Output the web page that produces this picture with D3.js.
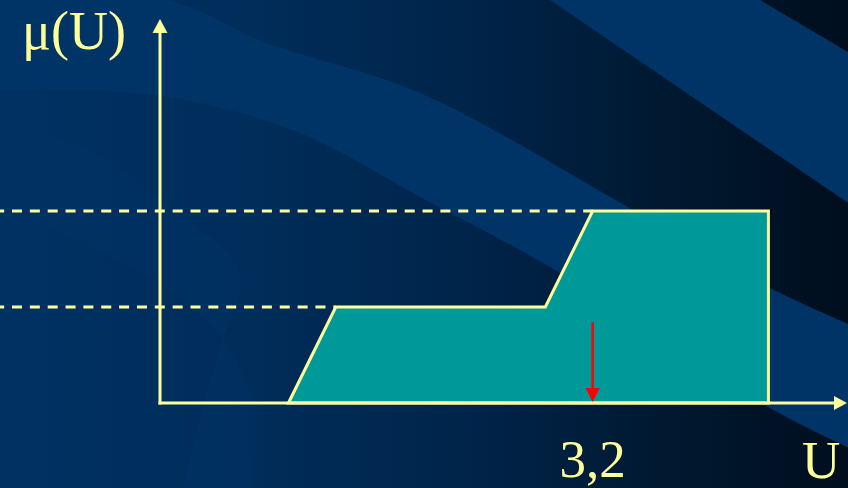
<!DOCTYPE html>
<html>
<head>
<meta charset="utf-8">
<script src="https://cdn.jsdelivr.net/npm/d3@7"></script>
<style>
  html, body { margin: 0; padding: 0; background: #001a33; overflow: hidden; }
  svg { display: block; }
</style>
</head>
<body>
<svg id="chart" width="848" height="488"></svg>
<script>
// Clipped output fuzzy set (vertices in U / μ units)
const shapeU  = [0.95, 1.3, 2.85, 3.2, 4.5, 4.5];
const shapeMu = [0, 0.25, 0.25, 0.5, 0.5, 0];
// Membership levels the rules were cut at
const cutLevels = [0.25, 0.5];
// Defuzzified (crisp) output
const crispValue = 3.2;
const crispLabel = "3,2";
const crispArrowTop = 0.21;
// Axis titles
const yAxisTitle = "μ(U)";
const xAxisTitle = "U";

const W = 848, H = 488;
const YELLOW = "#ffff99";
const TEAL = "#009999";

const svg = d3.select("#chart");

const x = d3.scaleLinear().domain([0, 5]).range([160, 836]);
const y = d3.scaleLinear().domain([0, 1]).range([403, 19]);

// ---------- slide background ----------
const defs = svg.append("defs");
const grad = defs.append("linearGradient").attr("id", "bg")
  .attr("x1", 0).attr("y1", 0).attr("x2", 1).attr("y2", 0);
[[0, "#003163"], [0.3, "#002d5a"], [0.55, "#00244a"], [0.8, "#00182f"], [1, "#000e1e"]]
  .forEach(([o, c]) => grad.append("stop").attr("offset", o).attr("stop-color", c));

svg.append("rect").attr("width", W).attr("height", H).attr("fill", "url(#bg)");

const smooth = d3.line().curve(d3.curveCatmullRom.alpha(0.5));
const band = "#003366";

// long sweeping band from the upper left down to the right edge
const sweepTop = [[-20, -10], [167, 0], [267, 43], [420, 93], [633, 210], [768, 287], [860, 329]];
const sweepBottom = [[860, 453], [768, 407], [560, 273], [420, 197], [300, 133], [167, 97], [33, 90], [-20, 92]];
svg.append("path")
  .attr("d", smooth(sweepTop) + "L" + smooth(sweepBottom).slice(1) + "Z")
  .attr("fill", band);

// band in the top right corner
svg.append("path")
  .attr("d", d3.line()([[550, 0], [760, 0], [860, 59], [860, 211]]) + "Z")
  .attr("fill", band);

// faint ribbon on the lower left
const ribbonA = [[40, 135], [90, 150], [160, 200], [240, 273], [223, 337]];
const ribbonB = [[223, 337], [160, 283], [93, 247], [40, 225]];
svg.append("path")
  .attr("d", smooth(ribbonA) + "L" + smooth(ribbonB).slice(1) + "Z")
  .attr("fill", band).attr("opacity", 0.45);
const ribbonC = [[223, 337], [253, 400], [252, 488], [250, 500]];
const ribbonD = [[183, 500], [183, 488], [205, 400], [223, 337]];
svg.append("path")
  .attr("d", smooth(ribbonC) + "L" + smooth(ribbonD).slice(1) + "Z")
  .attr("fill", band).attr("opacity", 0.45);

// ---------- chart ----------
const pts = shapeU.map((u, i) => [x(u), y(shapeMu[i])]);

// dashed cut levels, from the left edge to where the level meets the set
cutLevels.forEach(level => {
  const uEnd = d3.min(shapeU.filter((u, i) => shapeMu[i] === level));
  svg.append("line")
    .attr("x1", 0).attr("x2", x(uEnd))
    .attr("y1", y(level)).attr("y2", y(level))
    .attr("stroke", YELLOW).attr("stroke-width", 3)
    .attr("stroke-dasharray", "10,7.85")
    .attr("stroke-dashoffset", 5.85);
});

// the fuzzy set
svg.append("path")
  .attr("d", d3.line()(pts) + "Z")
  .attr("fill", TEAL)
  .attr("stroke", YELLOW).attr("stroke-width", 3)
  .attr("stroke-linejoin", "miter");

// axes with arrowheads
const x0 = x(0), yBase = y(0), yTip = y(1), xTip = 847;
svg.append("line")
  .attr("x1", x0).attr("x2", x0).attr("y1", yBase + 1.5).attr("y2", yTip + 12)
  .attr("stroke", YELLOW).attr("stroke-width", 3);
svg.append("path")
  .attr("d", d3.line()([[x0, yTip], [x0 - 7.5, yTip + 14], [x0 + 7.5, yTip + 14]]) + "Z")
  .attr("fill", YELLOW);
svg.append("line")
  .attr("x1", x0 - 1.5).attr("x2", xTip - 10).attr("y1", yBase).attr("y2", yBase)
  .attr("stroke", YELLOW).attr("stroke-width", 3);
svg.append("path")
  .attr("d", d3.line()([[xTip, yBase], [xTip - 13, yBase - 7], [xTip - 13, yBase + 7]]) + "Z")
  .attr("fill", YELLOW);

// crisp output arrow
const cx = x(crispValue);
svg.append("line")
  .attr("x1", cx).attr("x2", cx)
  .attr("y1", y(crispArrowTop)).attr("y2", yBase - 12)
  .attr("stroke", "#ff0000").attr("stroke-width", 2.5);
svg.append("path")
  .attr("d", d3.line()([[cx, yBase - 1], [cx - 7, yBase - 15], [cx + 7, yBase - 15]]) + "Z")
  .attr("fill", "#ff0000");

// labels
const font = "'Liberation Serif', 'Times New Roman', serif";
svg.append("text").text(yAxisTitle)
  .attr("x", 22).attr("y", 49)
  .attr("font-family", font).attr("font-size", 54).attr("fill", YELLOW);
svg.append("text").text(crispLabel)
  .attr("x", cx).attr("y", 477).attr("text-anchor", "middle")
  .attr("font-family", font).attr("font-size", 53).attr("fill", YELLOW);
svg.append("text").text(xAxisTitle)
  .attr("x", 802).attr("y", 478)
  .attr("font-family", font).attr("font-size", 53).attr("fill", YELLOW);
</script>
</body>
</html>
